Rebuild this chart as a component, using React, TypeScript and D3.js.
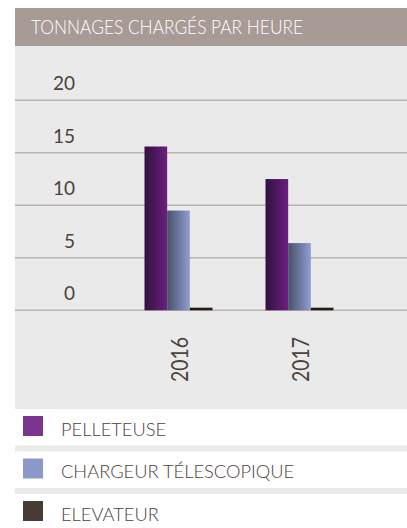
import React, { useEffect, useRef } from 'react';
import * as d3 from 'd3';

// données
const years = ['2016', '2017'];
const series = ['PELLETEUSE', 'CHARGEUR TÉLESCOPIQUE', 'ELEVATEUR'];
const pelleteuse = [15.6, 12.5];
const chargeur = [9.5, 6.4];
const elevateur = [0.25, 0.25];
const yTicks = [0, 5, 10, 15, 20];

const values = [pelleteuse, chargeur, elevateur];
const gradients = [
    ['#30123d', '#6c1f80'],
    ['#485069', '#909ed2'],
    ['#231915', '#2a1f1a'],
];
const swatches = ['#7a3590', '#8b98c8', '#463b35'];

const W = 407, H = 528;
const textColor = '#4d413c';

function App() {
    const ref = useRef<SVGSVGElement>(null);

    useEffect(() => {
        const svg = d3.select(ref.current);
        svg.selectAll('*').remove();

        const defs = svg.append('defs');
        gradients.forEach((g, i) => {
            const lg = defs.append('linearGradient')
                .attr('id', 'grad' + i)
                .attr('x1', '0%').attr('x2', '100%')
                .attr('y1', '0%').attr('y2', '0%');
            lg.append('stop').attr('offset', '0%').attr('stop-color', g[0]);
            lg.append('stop').attr('offset', '100%').attr('stop-color', g[1]);
        });

        // fond
        svg.append('rect').attr('x', 0).attr('y', 0).attr('width', W).attr('height', H).attr('fill', '#fff');
        svg.append('rect').attr('x', 15).attr('y', 46).attr('width', W - 15).attr('height', 363).attr('fill', '#ebeaea');

        // titre
        svg.append('rect').attr('x', 15).attr('y', 8).attr('width', W - 15).attr('height', 38).attr('fill', '#a89b96');
        svg.append('text')
            .attr('x', 31).attr('y', 34)
            .attr('font-family', 'Lato').attr('font-weight', 300)
            .attr('font-size', 19).attr('fill', '#fff')
            .attr('textLength', 272).attr('lengthAdjust', 'spacingAndGlyphs')
            .text('TONNAGES CHARGÉS PAR HEURE');

        const y = d3.scaleLinear().domain([0, 20]).range([310.3, 100.3]);
        const x = d3.scaleBand().domain(years).range([118, 360]);
        const xs = d3.scaleBand().domain(series)
            .range([x.bandwidth() / 2 - 34, x.bandwidth() / 2 + 34]);

        // barres
        const groups = svg.selectAll('.year')
            .data(years)
            .enter().append('g')
            .attr('class', 'year')
            .attr('transform', d => 'translate(' + x(d) + ',0)');

        groups.selectAll('rect')
            .data((d, i) => series.map((s, j) => ({ s: s, j: j, v: values[j][i] })))
            .enter().append('rect')
            .attr('x', d => xs(d.s))
            .attr('width', xs.bandwidth())
            .attr('y', d => y(d.v))
            .attr('height', d => y(0) - y(d.v))
            .attr('fill', d => 'url(#grad' + d.j + ')');

        // grille + étiquettes
        const grid = svg.append('g');
        yTicks.forEach(t => {
            grid.append('line')
                .attr('x1', 15).attr('x2', W)
                .attr('y1', y(t)).attr('y2', y(t))
                .attr('stroke', '#bcb2ae').attr('stroke-width', 1.5);
        });
        groups.raise();

        svg.append('g').selectAll('text')
            .data(yTicks)
            .enter().append('text')
            .attr('x', 75).attr('y', d => y(d) - 10)
            .attr('text-anchor', 'end')
            .attr('font-family', 'Lato').attr('font-weight', 400)
            .attr('font-size', 19).attr('fill', textColor)
            .text(d => d);

        groups.append('text')
            .attr('transform', 'translate(' + (x.bandwidth() / 2 + 9) + ',337) rotate(-90)')
            .attr('text-anchor', 'end')
            .attr('font-family', 'Lato').attr('font-weight', 400)
            .attr('font-size', 24).attr('fill', textColor)
            .attr('textLength', 45).attr('lengthAdjust', 'spacingAndGlyphs')
            .text(d => d);

        // légende
        const leg = svg.append('g');
        series.forEach((s, i) => {
            const top = 409 + i * 42.5;
            if (i > 0) {
                leg.append('rect').attr('x', 15).attr('y', top - 6).attr('width', W - 15).attr('height', 6).attr('fill', '#ebeaea');
            }
            leg.append('rect').attr('x', 23).attr('y', top + 7).attr('width', 20).attr('height', 20).attr('fill', swatches[i]);
            leg.append('text')
                .attr('x', 61).attr('y', top + 26.5)
                .attr('font-family', 'Lato').attr('font-weight', 300)
                .attr('font-size', 18.3).attr('fill', textColor)
                .text(s);
        });
    }, []);

    return (
        <svg ref={ref} width={W} height={H} style={{ position: 'absolute', left: 0, top: 0 }}></svg>
    );
}

export default App;
